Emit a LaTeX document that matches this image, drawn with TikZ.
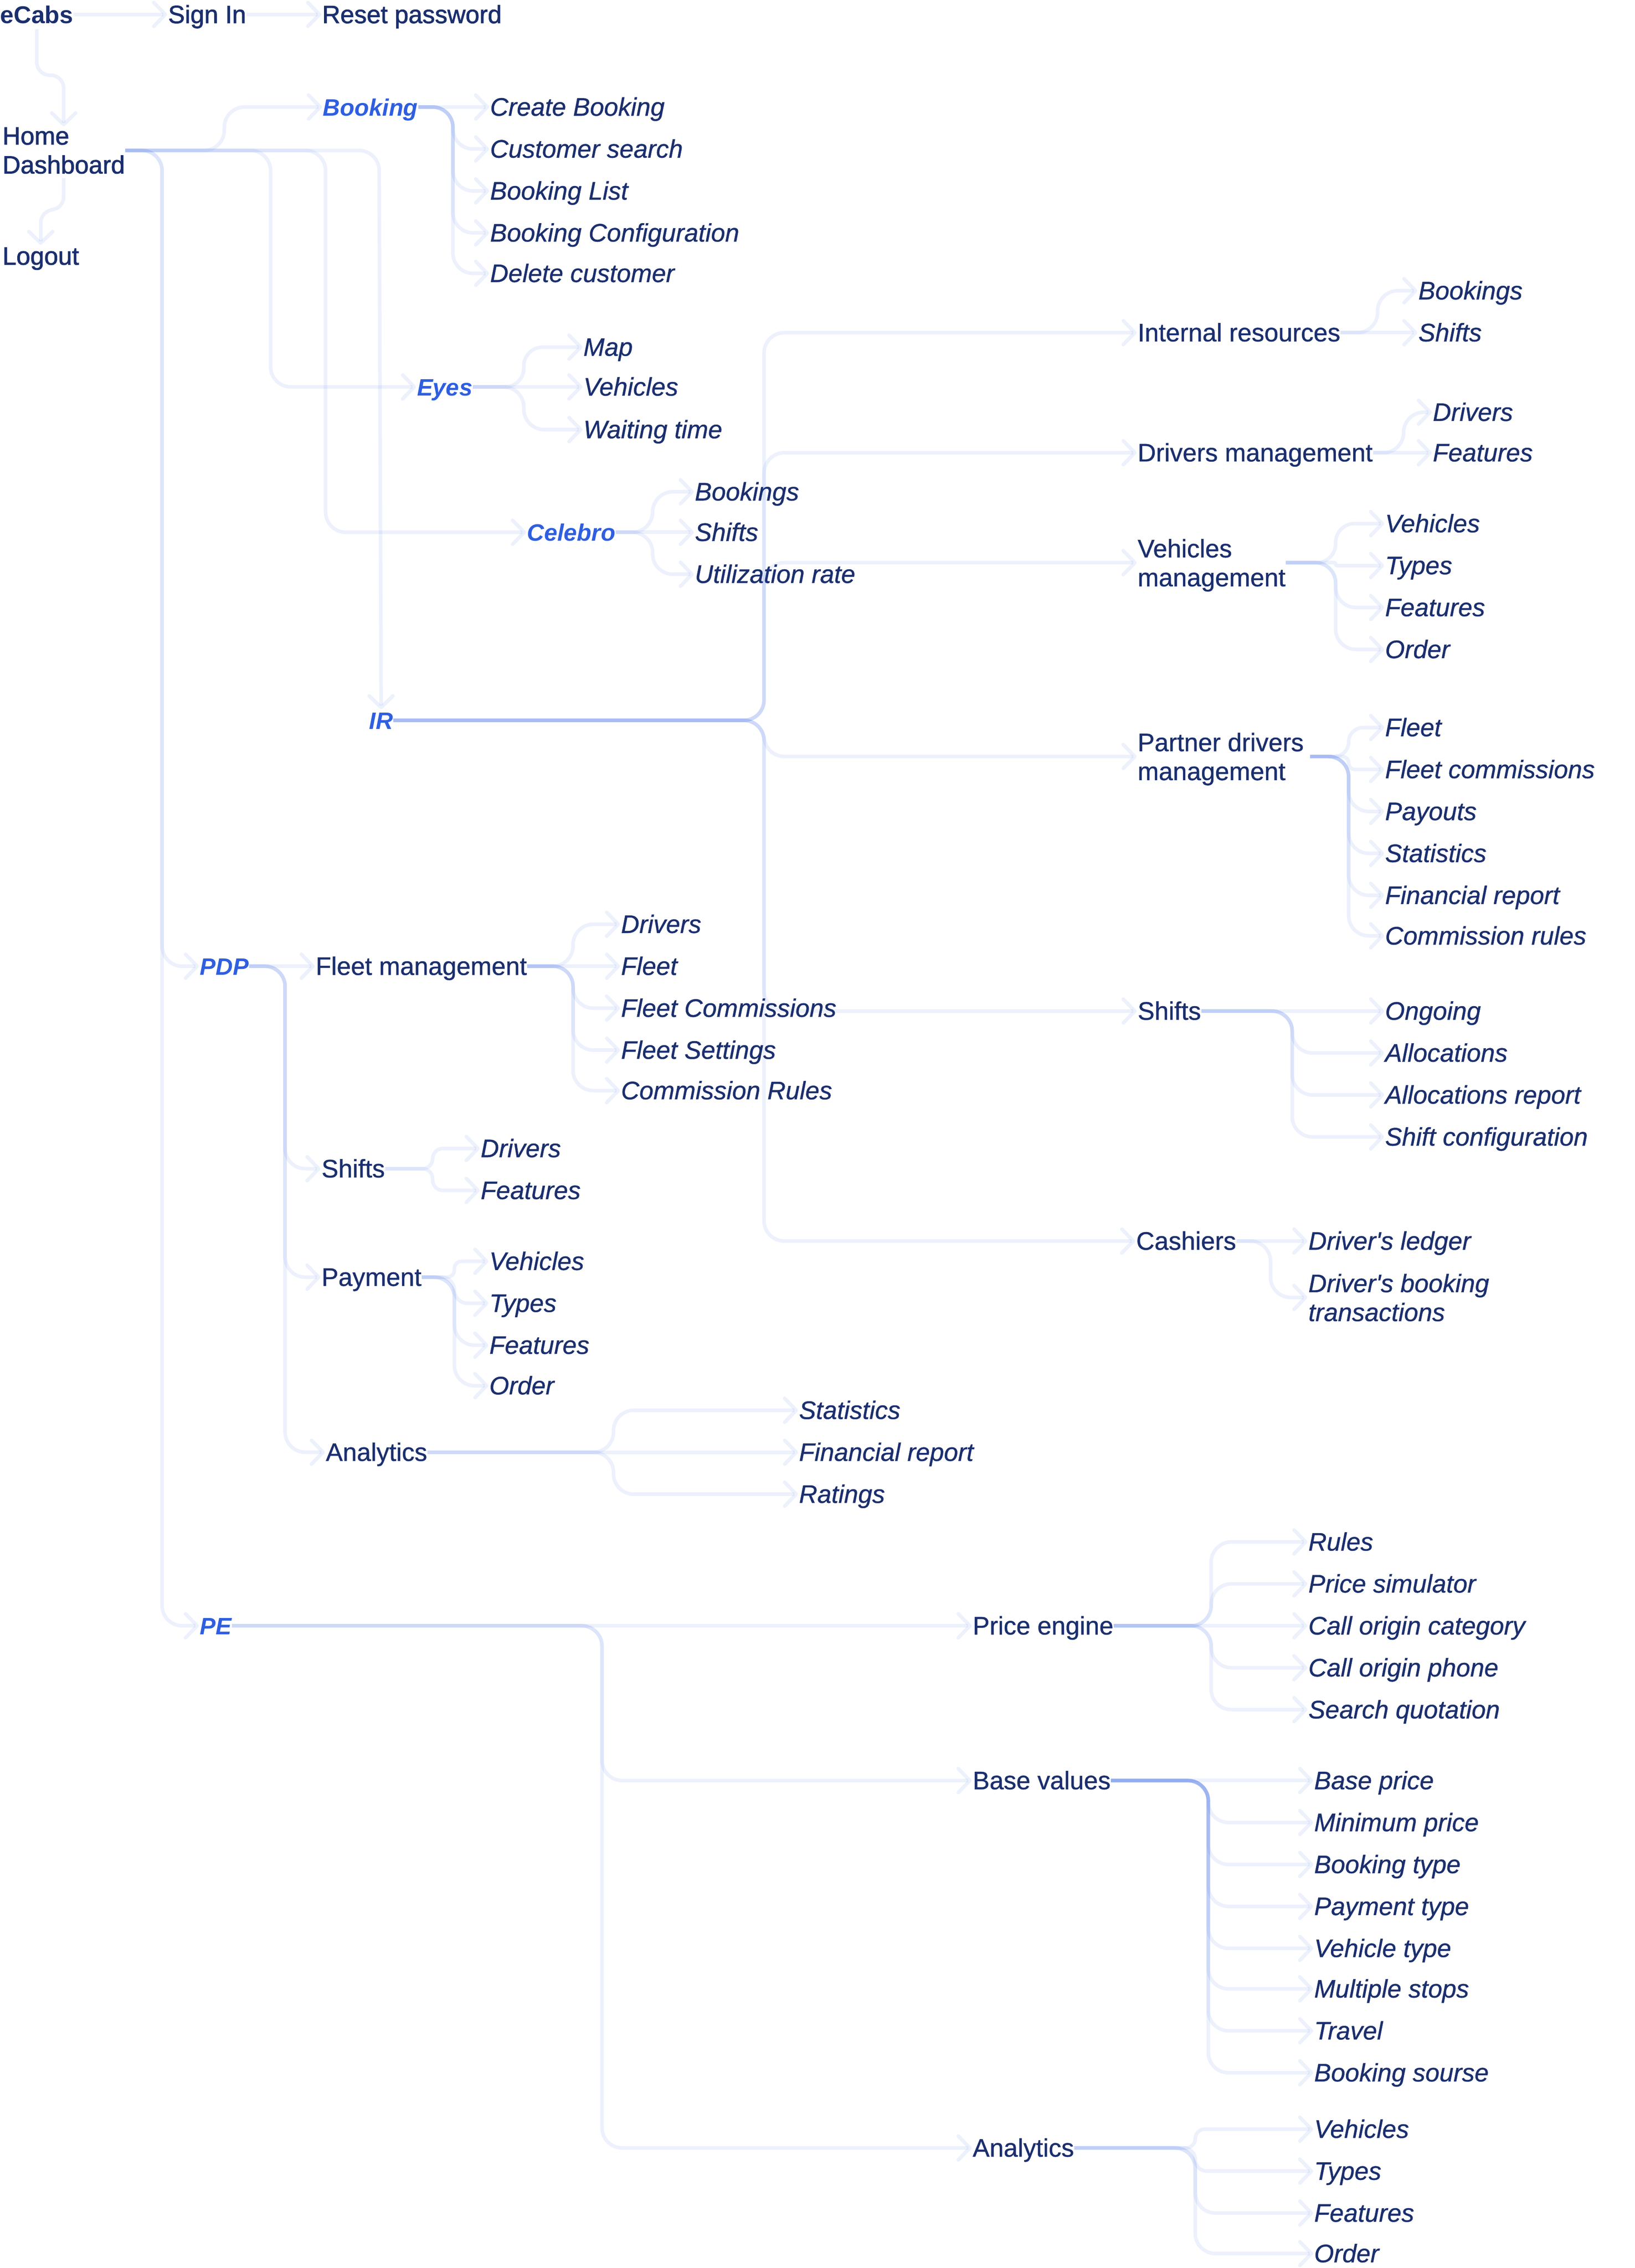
\documentclass[tikz,border=0pt]{standalone}
\usepackage{fontspec}
\setmainfont{Liberation Sans}[FakeBold=0.8]
\newfontfamily\leaffont{Liberation Sans}[FakeBold=0.8]
\newfontfamily\midfont{Liberation Sans}[FakeBold=1.6]
\newfontfamily\logofont{Liberation Sans}
\usetikzlibrary{arrows.meta,calc}
\definecolor{navy}{HTML}{1B2F6E}
\definecolor{accent}{HTML}{2F5FE0}
\definecolor{linkc}{HTML}{2F5FE0}
\tikzset{
 link/.style={draw=linkc,draw opacity=0.085,line width=2.5pt,shorten >=0.5pt,
   -{Straight Barb[length=8pt,width=16.5pt,line cap=round,round]}},
 lbl/.style={inner sep=0pt,anchor=west,text height=13pt,text depth=1pt,text=navy,font=\fontsize{17.5}{20}\selectfont},
 lbltwo/.style={inner sep=0pt,anchor=west,align=left,text depth=0pt,text=navy,font=\fontsize{17.5}{20}\selectfont},
 leaf/.style={lbl,font=\fontsize{17.5}{20}\leaffont\itshape},
 leaftwo/.style={lbltwo,font=\fontsize{17.5}{20}\leaffont\itshape},
 head/.style={lbl,text=accent,font=\fontsize{16.4}{20}\logofont\bfseries\itshape},
 top/.style={lbl,font=\fontsize{17.3}{20}\midfont},
}
\newcommand\conn[4][14pt]{\draw[link,rounded corners=#1] (#2.east) -- (#2.east -| #4,0) -- (#3.west -| #4,0) -- (#3.west);}
\newcommand\strt[2]{\draw[link] (#1.east) -- (#2.west);}
\newcommand\vconn[3]{\draw[link,shorten <=3pt,rounded corners=9pt] (#1.south) -- (#1.south |- 0,#3) -- (#2.north |- 0,#3) -- (#2.north);}
\begin{document}
\begin{tikzpicture}[x=1pt,y=-1pt]
\useasboundingbox (0,0) rectangle (1129.6,1568);
% top
\node[top,font=\fontsize{16.8}{20}\logofont\bfseries] (ecabs) at (0,10) {eCabs};
\node[top] (signin) at (116,10) {Sign In};
\node[top] (reset) at (222.5,10) {Reset password};
\node[lbltwo,font=\fontsize{17.3}{20}\midfont] (home) at (1.5,104) {Home\\Dashboard};
\node[top] (logout) at (1.5,177) {Logout};
\strt{ecabs}{signin}
\strt{signin}{reset}
\vconn{ecabs}{home}{52}
\vconn{home}{logout}{145}
% heads
\node[head] (booking) at (223,74) {Booking};
\node[head] (eyes) at (288,267.5) {Eyes};
\node[head] (celebro) at (364,368) {Celebro};
\node[head] (ir) at (255,498) {IR};
\node[head] (pdp) at (138,668) {PDP};
\node[head] (pe) at (138,1124) {PE};
\conn{home}{booking}{155}
\conn{home}{eyes}{187}
\conn{home}{celebro}{225}
\conn{home}{pdp}{112}
\conn{home}{pe}{112}
\draw[link,rounded corners=14pt] (home.east) -- (home.east -| 262,0) -- (ir.north);
% booking
\node[leaf] (b1) at (338.5,74) {Create Booking};
\node[leaf] (b2) at (338.5,103) {Customer search};
\node[leaf] (b3) at (338.5,132) {Booking List};
\node[leaf] (b4) at (338.5,161) {Booking Configuration};
\node[leaf] (b5) at (338.5,189) {Delete customer};
\strt{booking}{b1}
\foreach \n in {b2,b3,b4,b5} {\conn{booking}{\n}{313}}
% eyes
\node[leaf] (e1) at (403,240) {Map};
\node[leaf] (e2) at (403,267.5) {Vehicles};
\node[leaf] (e3) at (403,297) {Waiting time};
\strt{eyes}{e2}
\conn[13pt]{eyes}{e1}{362}
\conn{eyes}{e3}{362}
% celebro
\node[leaf] (c1) at (480,340) {Bookings};
\node[leaf] (c2) at (480,368) {Shifts};
\node[leaf] (c3) at (480,397) {Utilization rate};
\strt{celebro}{c2}
\foreach \n in {c1,c3} {\conn{celebro}{\n}{451}}
% IR
\node[lbl] (ir1) at (786,230) {Internal resources};
\node[lbl] (ir2) at (786,313) {Drivers management};
\node[lbltwo] (ir3) at (786,389) {Vehicles\\management};
\node[lbltwo] (ir4) at (786,523) {\makebox[119pt][l]{Partner drivers}\\management};
\node[lbl] (ir5) at (786,699) {Shifts};
\node[lbl] (ir6) at (785,858) {Cashiers};
\foreach \n in {ir1,ir2,ir3,ir4,ir5,ir6} {\conn{ir}{\n}{528}}
\node[leaf] (ir1a) at (980,201) {Bookings};
\node[leaf] (ir1b) at (980,230) {Shifts};
\conn{ir1}{ir1a}{952}
\strt{ir1}{ir1b}
\node[leaf] (ir2a) at (990,285) {Drivers};
\node[leaf] (ir2b) at (990,313) {Features};
\conn{ir2}{ir2a}{970}
\strt{ir2}{ir2b}
\node[leaf] (ir3a) at (957,362) {Vehicles};
\node[leaf] (ir3b) at (957,391) {Types};
\node[leaf] (ir3c) at (957,420) {Features};
\node[leaf] (ir3d) at (957,449) {Order};
\conn[13pt]{ir3}{ir3a}{923}
\conn[1pt]{ir3}{ir3b}{923}
\conn{ir3}{ir3c}{923}
\conn{ir3}{ir3d}{923}
\node[leaf] (ir4a) at (957,503) {Fleet};
\node[leaf] (ir4b) at (957,532) {Fleet commissions};
\node[leaf] (ir4c) at (957,561) {Payouts};
\node[leaf] (ir4d) at (957,590) {Statistics};
\node[leaf] (ir4e) at (957,619) {Financial report};
\node[leaf] (ir4f) at (957,647) {Commission rules};
\conn[10pt]{ir4}{ir4a}{932}
\conn[4.5pt]{ir4}{ir4b}{932}
\foreach \n in {ir4c,ir4d,ir4e,ir4f} {\conn{ir4}{\n}{932}}
\node[leaf] (ir5a) at (957,699) {Ongoing};
\node[leaf] (ir5b) at (957,728) {Allocations};
\node[leaf] (ir5c) at (957,757) {Allocations report};
\node[leaf] (ir5d) at (957,786) {Shift configuration};
\strt{ir5}{ir5a}
\foreach \n in {ir5b,ir5c,ir5d} {\conn{ir5}{\n}{893}}
\node[leaf] (ir6a) at (904,858) {Driver's ledger};
\node[leaftwo] (ir6b) at (904,897) {Driver's booking\\transactions};
\strt{ir6}{ir6a}
\conn{ir6}{ir6b}{878}
% PDP
\node[lbl] (p1) at (218,668) {Fleet management};
\node[lbl] (p2) at (222,808) {Shifts};
\node[lbl] (p3) at (222,883) {Payment};
\node[lbl] (p4) at (225,1004) {Analytics};
\strt{pdp}{p1}
\foreach \n in {p2,p3,p4} {\conn{pdp}{\n}{197}}
\node[leaf] (p1a) at (429,639) {Drivers};
\node[leaf] (p1b) at (429,668) {Fleet};
\node[leaf] (p1c) at (429,697) {Fleet Commissions};
\node[leaf] (p1d) at (429,726) {Fleet Settings};
\node[leaf] (p1e) at (429,754) {Commission Rules};
\strt{p1}{p1b}
\foreach \n in {p1a,p1c,p1d,p1e} {\conn{p1}{\n}{396}}
\node[leaf] (p2a) at (332,794) {Drivers};
\node[leaf] (p2b) at (332,823) {Features};
\conn[7pt]{p2}{p2a}{299}
\conn[7pt]{p2}{p2b}{299}
\node[leaf] (p3a) at (338,872) {Vehicles};
\node[leaf] (p3b) at (338,901) {Types};
\node[leaf] (p3c) at (338,930) {Features};
\node[leaf] (p3d) at (338,958) {Order};
\conn[5pt]{p3}{p3a}{314}
\conn[9pt]{p3}{p3b}{314}
\conn{p3}{p3c}{314}
\conn{p3}{p3d}{314}
\node[leaf] (p4a) at (552,975) {Statistics};
\node[leaf] (p4b) at (552,1004) {Financial report};
\node[leaf] (p4c) at (552,1033) {Ratings};
\strt{p4}{p4b}
\conn{p4}{p4a}{424}
\conn{p4}{p4c}{424}
% PE
\node[lbl] (q1) at (672,1124) {Price engine};
\node[lbl] (q2) at (672,1231) {Base values};
\node[lbl] (q3) at (672,1485) {Analytics};
\strt{pe}{q1}
\conn{pe}{q2}{416}
\conn{pe}{q3}{416}
\node[leaf] (q1a) at (904,1066) {Rules};
\node[leaf] (q1b) at (904,1095) {Price simulator};
\node[leaf] (q1c) at (904,1124) {Call origin category};
\node[leaf] (q1d) at (904,1153) {Call origin phone};
\node[leaf] (q1e) at (904,1182) {Search quotation};
\strt{q1}{q1c}
\foreach \n in {q1a,q1b,q1d,q1e} {\conn{q1}{\n}{837}}
\node[leaf] (q2a) at (908,1231) {Base price};
\node[leaf] (q2b) at (908,1260) {Minimum price};
\node[leaf] (q2c) at (908,1289) {Booking type};
\node[leaf] (q2d) at (908,1318) {Payment type};
\node[leaf] (q2e) at (908,1347) {Vehicle type};
\node[leaf] (q2f) at (908,1375) {Multiple stops};
\node[leaf] (q2g) at (908,1404) {Travel};
\node[leaf] (q2h) at (908,1433) {Booking sourse};
\strt{q2}{q2a}
\foreach \n in {q2b,q2c,q2d,q2e,q2f,q2g,q2h} {\conn{q2}{\n}{835}}
\node[leaf] (q3a) at (908,1472) {Vehicles};
\node[leaf] (q3b) at (908,1501) {Types};
\node[leaf] (q3c) at (908,1530) {Features};
\node[leaf] (q3d) at (908,1558) {Order};
\conn[6.5pt]{q3}{q3a}{826}
\conn[8pt]{q3}{q3b}{826}
\conn{q3}{q3c}{826}
\conn{q3}{q3d}{826}
\end{tikzpicture}
\end{document}
